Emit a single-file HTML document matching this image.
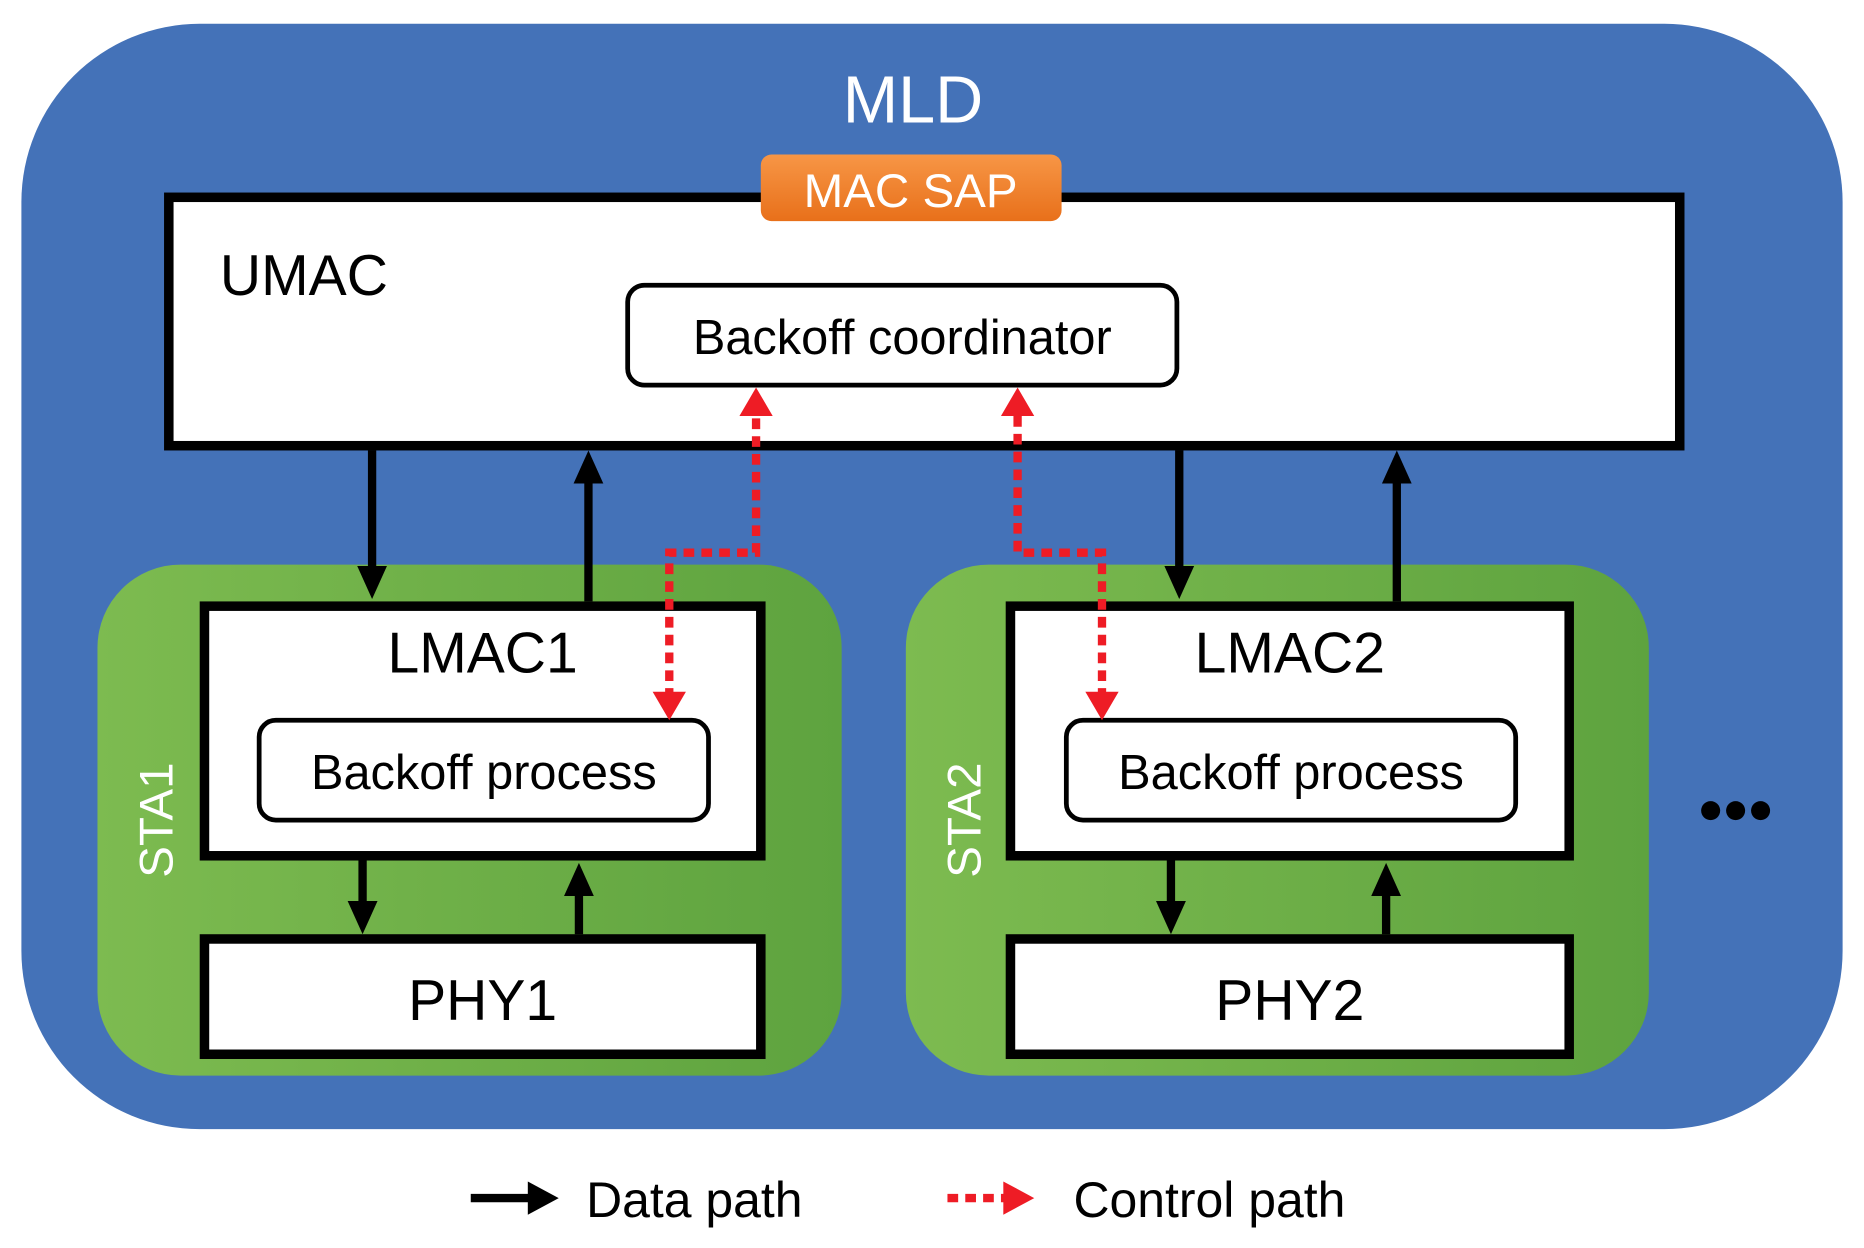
<!DOCTYPE html>
<html><head><meta charset="utf-8"><style>
html,body{margin:0;padding:0;background:#fff;}
svg{display:block;}
text{font-family:"Liberation Sans",sans-serif;}
</style></head><body>
<svg width="1864" height="1248" viewBox="0 0 1568 1050" preserveAspectRatio="none" xmlns="http://www.w3.org/2000/svg">
<defs>
<linearGradient id="g" x1="0" x2="1" y1="0" y2="0"><stop offset="0" stop-color="#7dbb50"/><stop offset="1" stop-color="#5ea33f"/></linearGradient>
<linearGradient id="o" x1="0" x2="0" y1="0" y2="1"><stop offset="0" stop-color="#f79646"/><stop offset="1" stop-color="#e8701a"/></linearGradient>
<marker id="ab" markerWidth="4" markerHeight="4" refX="2" refY="2" orient="auto" markerUnits="strokeWidth"><path d="M0,0.2 L4,2 L0,3.8 z" fill="#000"/></marker>
<marker id="ar" markerWidth="4" markerHeight="4" refX="2" refY="2" orient="auto" markerUnits="strokeWidth"><path d="M0,0.2 L4,2 L0,3.8 z" fill="#ee1c25"/></marker>
</defs>
<rect x="18" y="20" width="1532" height="930" rx="150" fill="#4472b8"/>
<text x="768" y="103" font-size="56" fill="#fff" text-anchor="middle">MLD</text>
<rect x="142" y="166" width="1271" height="209" fill="#fff" stroke="#000" stroke-width="8"/>
<rect x="640" y="130" width="253" height="56" rx="9" fill="url(#o)"/>
<text x="766" y="174" font-size="40" fill="#fff" text-anchor="middle">MAC SAP</text>
<text x="185" y="248" font-size="48" fill="#000">UMAC</text>
<rect x="528" y="240" width="462" height="84" rx="14" fill="#fff" stroke="#000" stroke-width="4"/>
<text x="759" y="298" font-size="41" fill="#000" text-anchor="middle">Backoff coordinator</text>

<rect x="82" y="475" width="626" height="430" rx="70" fill="url(#g)"/>
<rect x="762" y="475" width="625" height="430" rx="70" fill="url(#g)"/>
<text transform="translate(145,690) rotate(-90)" font-size="40" fill="#fff" text-anchor="middle">STA1</text>
<text transform="translate(825,690) rotate(-90)" font-size="40" fill="#fff" text-anchor="middle">STA2</text>

<rect x="172" y="510" width="468" height="210" fill="#fff" stroke="#000" stroke-width="8"/>
<text x="406" y="566" font-size="48" text-anchor="middle">LMAC1</text>
<rect x="218" y="606" width="378" height="84" rx="14" fill="#fff" stroke="#000" stroke-width="4"/>
<text x="407" y="664" font-size="41" text-anchor="middle">Backoff process</text>
<rect x="172" y="790" width="468" height="97" fill="#fff" stroke="#000" stroke-width="8"/>
<text x="406" y="858" font-size="48" text-anchor="middle">PHY1</text>

<rect x="850" y="510" width="470" height="210" fill="#fff" stroke="#000" stroke-width="8"/>
<text x="1085" y="566" font-size="48" text-anchor="middle">LMAC2</text>
<rect x="897" y="606" width="378" height="84" rx="14" fill="#fff" stroke="#000" stroke-width="4"/>
<text x="1086" y="664" font-size="41" text-anchor="middle">Backoff process</text>
<rect x="850" y="790" width="470" height="97" fill="#fff" stroke="#000" stroke-width="8"/>
<text x="1085" y="858" font-size="48" text-anchor="middle">PHY2</text>

<g stroke="#000" stroke-width="7" fill="none">
<line x1="313" y1="379" x2="313" y2="490" marker-end="url(#ab)"/>
<line x1="495" y1="506" x2="495" y2="393" marker-end="url(#ab)"/>
<line x1="992" y1="379" x2="992" y2="490" marker-end="url(#ab)"/>
<line x1="1175" y1="506" x2="1175" y2="393" marker-end="url(#ab)"/>
<line x1="305" y1="724" x2="305" y2="772" marker-end="url(#ab)"/>
<line x1="487" y1="786" x2="487" y2="740" marker-end="url(#ab)"/>
<line x1="985" y1="724" x2="985" y2="772" marker-end="url(#ab)"/>
<line x1="1166" y1="786" x2="1166" y2="740" marker-end="url(#ab)"/>
</g>
<g stroke="#ee1c25" stroke-width="7" fill="none" stroke-dasharray="9,6">
<polyline points="563,588 563,465 636,465 636,342"/>
<polyline points="927,588 927,465 856,465 856,342"/>
</g>
<g fill="#ee1c25">
<path d="M549,582 L577,582 L563,606 z"/>
<path d="M622,350 L650,350 L636,326 z"/>
<path d="M913,582 L941,582 L927,606 z"/>
<path d="M842,350 L870,350 L856,326 z"/>
</g>
<circle cx="1439" cy="682" r="8" fill="#000"/>
<circle cx="1460" cy="682" r="8" fill="#000"/>
<circle cx="1481" cy="682" r="8" fill="#000"/>

<line x1="396" y1="1008" x2="448" y2="1008" stroke="#000" stroke-width="7"/>
<path d="M444,994 L470,1008 L444,1022 z" fill="#000"/>
<text x="493" y="1024" font-size="42">Data path</text>
<line x1="797" y1="1008" x2="846" y2="1008" stroke="#ee1c25" stroke-width="7" stroke-dasharray="9,6"/>
<path d="M844,994 L870,1008 L844,1022 z" fill="#ee1c25"/>
<text x="903" y="1024" font-size="42">Control path</text>
</svg>
</body></html>
